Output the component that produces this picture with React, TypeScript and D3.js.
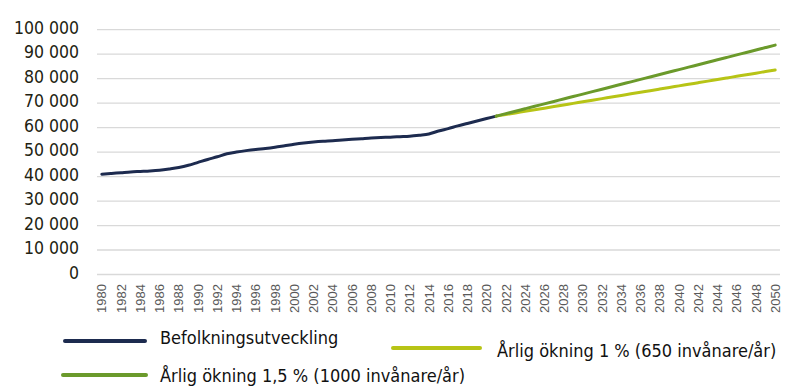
import React, { useEffect, useRef } from "react";
import * as d3 from "d3";

// Historical population 1980-2021
const historyYears = d3.range(1980, 2022);
const historyValues = [
  41000, 41300, 41600, 41900, 42100, 42300, 42600, 43100, 43700, 44600,
  45800, 47000, 48100, 49300, 50000, 50600, 51100, 51500, 52000, 52600,
  53200, 53700, 54100, 54400, 54600, 54900, 55200, 55500, 55800, 56000,
  56100, 56300, 56500, 56900, 57400, 58600, 59600, 60700, 61700, 62700,
  63700, 64700,
];

// Projections 2021-2050
const projectionYears = d3.range(2021, 2051);
const onePercentValues = [
  64700, 65350, 66000, 66650, 67300, 67950, 68600, 69250, 69900, 70550,
  71200, 71850, 72500, 73150, 73800, 74450, 75100, 75750, 76400, 77050,
  77700, 78350, 79000, 79650, 80300, 80950, 81600, 82250, 82900, 83550,
];
const onePointFiveValues = [
  64700, 65700, 66700, 67700, 68700, 69700, 70700, 71700, 72700, 73700,
  74700, 75700, 76700, 77700, 78700, 79700, 80700, 81700, 82700, 83700,
  84700, 85700, 86700, 87700, 88700, 89700, 90700, 91700, 92700, 93700,
];

const categories = d3.range(1980, 2051).map(String);
const yTicks = [0, 10000, 20000, 30000, 40000, 50000, 60000, 70000, 80000, 90000, 100000];

const seriesNames = [
  "Befolkningsutveckling",
  "Årlig ökning 1 % (650 invånare/år)",
  "Årlig ökning 1,5 % (1000 invånare/år)",
];

const navyColor = "#1d2b4f";
const yellowColor = "#b7c416";
const greenColor = "#6b9a2b";
const labelFont = "'DejaVu Sans Condensed', 'DejaVu Sans', sans-serif";

const App = () => {
  const svgRef = useRef(null);

  useEffect(() => {
    const svg = d3.select(svgRef.current);
    svg.selectAll("*").remove();

    const width = 800;
    const height = 392;
    const plot = { left: 97, right: 780, top: 29.7, bottom: 274.5 };

    svg.attr("width", width).attr("height", height);

    const xScale = d3
      .scaleBand()
      .domain(categories)
      .range([plot.left, plot.right]);
    const xPos = (year) => xScale(String(year)) + xScale.bandwidth() / 2;

    const yScale = d3
      .scaleLinear()
      .domain([0, 100000])
      .range([plot.bottom, plot.top]);

    const fmt = (v) => d3.format(",")(v).replace(/,/g, " ");

    // Gridlines
    svg
      .append("g")
      .selectAll("line")
      .data(yTicks)
      .join("line")
      .attr("x1", plot.left)
      .attr("x2", plot.right)
      .attr("y1", (d) => yScale(d))
      .attr("y2", (d) => yScale(d))
      .style("stroke", "#d9d9d9")
      .style("stroke-width", 1.3);

    // Y labels
    svg
      .append("g")
      .selectAll("text")
      .data(yTicks)
      .join("text")
      .attr("x", 79)
      .attr("y", (d) => yScale(d) - 2)
      .attr("dy", "0.35em")
      .style("text-anchor", "end")
      .style("font-family", labelFont)
      .style("font-stretch", "condensed")
      .style("font-size", "17.5px")
      .style("fill", "#222211")
      .text((d) => fmt(d));

    // X labels (every second year)
    svg
      .append("g")
      .selectAll("text")
      .data(categories.filter((_, i) => i % 2 === 0))
      .join("text")
      .attr("transform", (d) => `translate(${xPos(+d)}, 284) rotate(-90)`)
      .attr("dy", "0.36em")
      .style("text-anchor", "end")
      .style("font-family", "'Liberation Sans', Arial, sans-serif")
      .style("font-size", "13px")
      .style("fill", "#595959")
      .text((d) => d);

    const line = d3
      .line()
      .x((d) => xPos(d[0]))
      .y((d) => yScale(d[1]))
      .curve(d3.curveMonotoneX);

    const seriesData = [
      { points: d3.zip(historyYears, historyValues), color: navyColor },
      { points: d3.zip(projectionYears, onePercentValues), color: yellowColor },
      { points: d3.zip(projectionYears, onePointFiveValues), color: greenColor },
    ];

    for (let s of seriesData) {
      svg
        .append("path")
        .datum(s.points)
        .attr("d", line)
        .style("fill", "none")
        .style("stroke", s.color)
        .style("stroke-width", 3)
        .style("stroke-linecap", "round")
        .style("stroke-linejoin", "round");
    }

    // Legend
    const legendItems = [
      { x1: 65, x2: 145, ly: 341, tx: 160, ty: 344, color: navyColor },
      { x1: 393, x2: 480, ly: 348, tx: 497, ty: 357, color: yellowColor },
      { x1: 63, x2: 146, ly: 375, tx: 160, ty: 382, color: greenColor },
    ];

    legendItems.forEach((item, i) => {
      svg
        .append("line")
        .attr("x1", item.x1)
        .attr("x2", item.x2)
        .attr("y1", item.ly)
        .attr("y2", item.ly)
        .style("stroke", item.color)
        .style("stroke-width", 4)
        .style("stroke-linecap", "round");

      svg
        .append("text")
        .attr("x", item.tx)
        .attr("y", item.ty)
        .style("font-family", labelFont)
        .style("font-stretch", "condensed")
        .style("font-size", "18px")
        .style("fill", "#111111")
        .text(seriesNames[i]);
    });
  }, []);

  return (
    <svg
      ref={svgRef}
      style={{ position: "absolute", left: 0, top: 0, background: "#ffffff" }}
    ></svg>
  );
};

export default App;
